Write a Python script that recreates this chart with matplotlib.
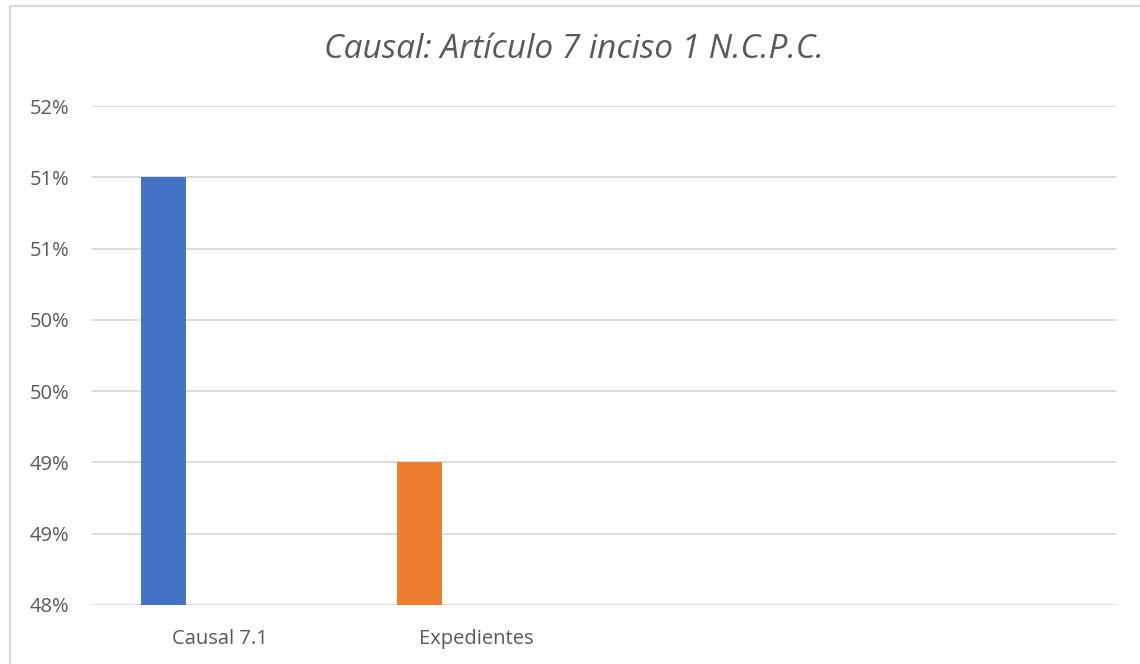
import matplotlib
matplotlib.use("Agg")
import matplotlib.pyplot as plt
from matplotlib.patches import Rectangle

# chart data
categories = ["Causal 7.1", "Expedientes", "", ""]
series_values = [0.51, 0.49]            # one bar per category (first two)
series_colors = ["#4472C4", "#ED7D31"]
y_ticks = [0.48, 0.485, 0.49, 0.495, 0.50, 0.505, 0.51, 0.515]
y_labels = ["48%", "49%", "49%", "50%", "50%", "51%", "51%", "52%"]
title = "Causal: Artículo 7 inciso 1 N.C.P.C."

W, H = 1140, 664
fig = plt.figure(figsize=(W / 100, H / 100), dpi=100)
fig.patch.set_facecolor("white")

# outer chart border (right and bottom edges fall outside the picture)
fig.patches.append(Rectangle((10 / W, -0.05), 1.2, (H - 6) / H + 0.05,
                             transform=fig.transFigure, fill=False,
                             edgecolor="#D9D9D9", linewidth=1.5))

ax = fig.add_axes([92 / W, 59 / H, (1116 - 92) / W, (605 - 106) / H])

ymin = y_ticks[0]
# bar sits on the left side of each category slot
offset = -0.5 + 71.5 / 256
width = 45 / 256
for i, (v, c) in enumerate(zip(series_values, series_colors)):
    ax.bar(i + offset, v - ymin, bottom=ymin, width=width, color=c, zorder=3)

ax.set_xlim(-0.5, len(categories) - 0.5)
ax.set_ylim(y_ticks[0], y_ticks[-1])
ax.set_yticks(y_ticks)
ax.set_yticklabels(y_labels)
ax.set_xticks(range(len(categories)))
ax.set_xticklabels(categories)

for s in ax.spines.values():
    s.set_visible(False)
ax.grid(axis="y", color="#D9D9D9", linewidth=1.3, zorder=0)
ax.tick_params(axis="both", length=0, labelsize=14.5, labelcolor="#595959")
ax.tick_params(axis="y", pad=16.5)
ax.tick_params(axis="x", pad=17)
for lab in ax.get_xticklabels() + ax.get_yticklabels():
    lab.set_fontfamily(["Open Sans", "DejaVu Sans"])

fig.text(0.5 * (325 + 822) / W, 1 - 50 / H, title, ha="center", va="center",
         fontsize=24, style="italic", color="#595959",
         family=["Open Sans", "DejaVu Sans"])

fig.savefig("out.png", dpi=100)
